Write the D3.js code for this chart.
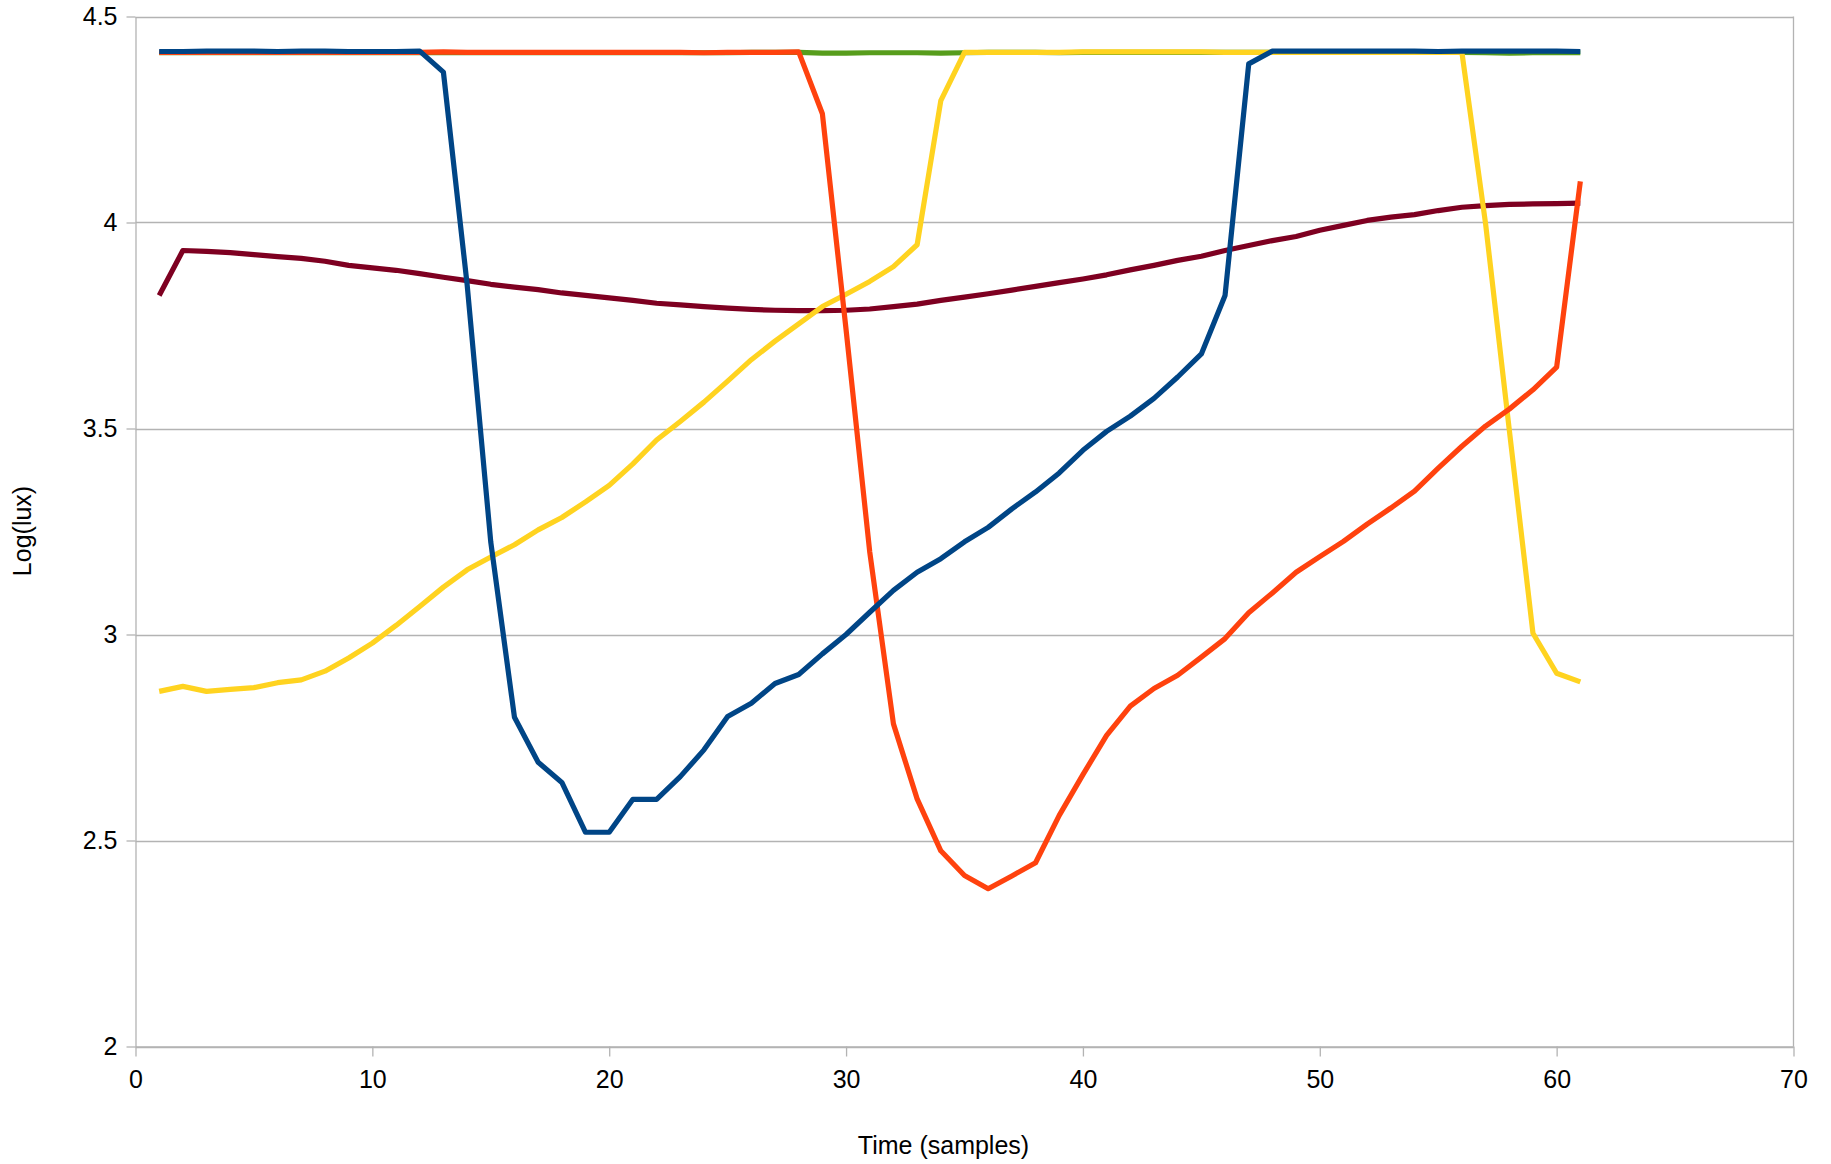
<!DOCTYPE html>
<html><head><meta charset="utf-8">
<script src="https://cdn.jsdelivr.net/npm/d3@7"></script>
<style>
html,body{margin:0;padding:0;background:#fff;}
svg{display:block;font-family:"Liberation Sans",Arial,sans-serif;}
</style></head><body>
<svg id="chart" width="1831" height="1164"></svg>
<script>
// sample index (x) values
const samples = d3.range(1, 62);

// series values, Log(lux)
const seriesBlue = [4.415,4.415,4.416,4.416,4.416,4.415,4.416,4.416,4.415,4.415,4.415,4.416,
  4.365,3.850,3.224,2.799,2.690,2.641,2.520,2.520,2.600,2.600,2.655,2.720,2.801,2.833,2.881,2.903,
  2.953,3.000,3.054,3.107,3.151,3.184,3.225,3.260,3.305,3.346,3.392,3.447,3.493,3.530,3.573,3.625,
  3.681,3.823,4.385,
  4.416,4.416,4.416,4.416,4.416,4.416,4.416,4.415,4.416,4.416,4.416,4.416,4.416,4.415];
const seriesRed = [4.413,4.413,4.413,4.413,4.413,4.413,4.413,4.413,4.413,4.413,4.413,4.413,4.414,4.413,
  4.413,4.413,4.413,4.413,4.413,4.413,4.413,4.413,4.413,4.412,4.413,4.413,4.413,4.414,
  4.264,3.740,3.200,2.783,2.601,2.475,2.415,2.383,2.414,2.446,2.561,2.660,2.755,2.826,2.869,2.901,
  2.945,2.990,3.053,3.101,3.151,3.189,3.226,3.268,3.307,3.348,3.404,3.457,3.506,3.547,3.594,3.649,4.100];
const seriesYellow = [2.862,2.874,2.862,2.867,2.871,2.883,2.890,2.911,2.943,2.979,3.022,3.068,3.115,3.157,
  3.188,3.218,3.254,3.284,3.322,3.362,3.414,3.472,3.517,3.564,3.615,3.667,3.712,3.754,3.796,3.826,
  3.857,3.893,3.946,4.296,
  4.413,4.413,4.413,4.413,4.413,4.414,4.414,4.414,4.414,4.414,4.414,4.413,4.413,4.413,4.413,4.413,
  4.413,4.413,4.413,4.413,4.413,4.413,
  3.997,3.497,3.003,2.906,2.885];
const seriesGreen = [4.412,4.412,4.412,4.412,4.412,4.412,4.412,4.412,4.412,4.412,4.412,4.412,4.412,4.412,
  4.412,4.412,4.412,4.412,4.412,4.412,4.412,4.412,4.412,4.412,4.412,4.413,4.413,4.413,4.411,4.411,
  4.412,4.412,4.412,4.411,4.412,4.413,4.413,4.413,4.412,4.413,4.413,4.413,4.413,4.413,4.413,4.413,
  4.413,4.413,4.413,4.413,4.413,4.413,4.413,4.413,4.413,4.413,4.412,4.411,4.412,4.412,4.412];
const seriesMaroon = [3.823,3.932,3.930,3.927,3.922,3.917,3.913,3.906,3.896,3.890,
  3.884,3.876,3.867,3.859,3.850,3.843,3.837,3.829,3.823,3.817,
  3.811,3.804,3.800,3.796,3.792,3.789,3.787,3.786,3.786,3.787,
  3.790,3.796,3.802,3.811,3.819,3.827,3.836,3.845,3.854,3.863,
  3.873,3.885,3.896,3.908,3.918,3.932,3.944,3.956,3.966,3.981,
  3.993,4.005,4.013,4.019,4.029,4.037,4.041,4.044,4.045,4.046,4.047];

// tick labels
const xTickValues = [0,10,20,30,40,50,60,70];
const yTickValues = [2,2.5,3,3.5,4,4.5];
const yTickLabels = ["2","2.5","3","3.5","4","4.5"];
const xTitle = "Time (samples)";
const yTitle = "Log(lux)";

// drawing order: first drawn is bottom-most
const seriesList = [
  {values: seriesMaroon, color: "#7e0021"},
  {values: seriesGreen,  color: "#579d1c"},
  {values: seriesYellow, color: "#ffd320"},
  {values: seriesRed,    color: "#ff420e"},
  {values: seriesBlue,   color: "#004586"}
];

const svg = d3.select("#chart");
const plotL = 135.5, plotR = 1793.5, plotT = 16.5, plotB = 1046.5;
const x = d3.scaleLinear().domain([0,70]).range([plotL, plotR]);
const y = d3.scaleLinear().domain([2,4.5]).range([plotB, plotT]);
const gridColor = "#b3b3b3";

// horizontal grid
svg.append("g").selectAll("line").data(yTickValues).join("line")
  .attr("x1", plotL).attr("x2", plotR)
  .attr("y1", d => Math.round(y(d)) + 0.5).attr("y2", d => Math.round(y(d)) + 0.5)
  .attr("stroke", gridColor).attr("stroke-width", 1.3);

// right border
svg.append("line").attr("x1", plotR).attr("x2", plotR).attr("y1", plotT).attr("y2", plotB)
  .attr("stroke", gridColor).attr("stroke-width", 1.3);

// axes
const yAxis = d3.axisLeft(y).tickValues(yTickValues)
  .tickFormat((d,i) => yTickLabels[i]).tickSize(9).tickPadding(9).tickSizeOuter(0);
const gy = svg.append("g").attr("transform", `translate(${plotL},0)`).call(yAxis);
const xAxis = d3.axisBottom(x).tickValues(xTickValues)
  .tickFormat(d3.format("d")).tickSize(10).tickPadding(14).tickSizeOuter(0);
const gx = svg.append("g").attr("transform", `translate(0,${plotB})`).call(xAxis);
[gx, gy].forEach(g => {
  g.select(".domain").attr("stroke", gridColor).attr("stroke-width", 1.3);
  g.selectAll(".tick line").attr("stroke", gridColor).attr("stroke-width", 1.3);
  g.selectAll(".tick text").attr("fill", "#000").attr("font-size", 25)
    .attr("font-family", '"Liberation Sans", Arial, sans-serif');
});

// lines
const line = d3.line().x((d,i) => x(samples[i])).y(d => y(d));
svg.append("g").selectAll("path").data(seriesList).join("path")
  .attr("d", s => line(s.values))
  .attr("fill", "none").attr("stroke", s => s.color)
  .attr("stroke-width", 5.2).attr("stroke-linejoin", "round").attr("stroke-linecap", "butt");

// axis titles
svg.append("text").attr("x", 943.5).attr("y", 1145).attr("text-anchor", "middle")
  .attr("dominant-baseline", "central").attr("font-size", 25).attr("fill", "#000").text(xTitle);
svg.append("text").attr("transform", "translate(22,531) rotate(-90)").attr("text-anchor", "middle")
  .attr("dominant-baseline", "central").attr("font-size", 25).attr("fill", "#000").text(yTitle);
</script>
</body></html>
